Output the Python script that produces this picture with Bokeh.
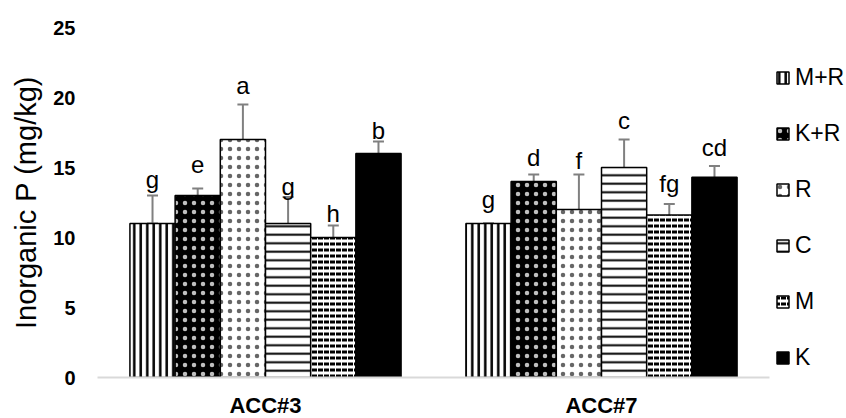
from bokeh.plotting import figure
from bokeh.models import (ColumnDataSource, FactorRange, Range1d, Whisker, Legend,
                          LegendItem, FixedTicker, TeeHead)
from bokeh.transform import dodge
from bokeh.core.properties import value
from bokeh.embed import file_html
from bokeh.resources import INLINE

# ---------------- data ----------------
groups = ["ACC#3", "ACC#7"]
series = ["M+R", "K+R", "R", "C", "M", "K"]

mean_mr = [11.0, 11.0]
mean_kr = [13.0, 14.0]
mean_r = [17.0, 12.0]
mean_c = [11.0, 15.0]
mean_m = [10.0, 11.6]
mean_k = [16.0, 14.3]

err_up_mr = [2.0, 0.0]
err_dn_mr = [0.0, 0.0]
err_kr = [0.5, 0.5]
err_r = [2.5, 2.5]
err_c = [1.9, 2.0]
err_m = [0.85, 0.8]
err_k = [0.85, 0.8]

letters_mr = ["g", "g"]
letters_kr = ["e", "d"]
letters_r = ["a", "f"]
letters_c = ["g", "c"]
letters_m = ["h", "fg"]
letters_k = ["b", "cd"]

letter_y_mr = [13.7, 12.3]
letter_y_kr = [14.8, 15.3]
letter_y_r = [20.4, 15.1]
letter_y_c = [13.2, 17.9]
letter_y_m = [11.3, 13.4]
letter_y_k = [17.2, 16.0]

y_ticks = [0, 5, 10, 15, 20, 25]

table = {
    "M+R": (mean_mr, err_up_mr, err_dn_mr, letters_mr, letter_y_mr),
    "K+R": (mean_kr, err_kr, err_kr, letters_kr, letter_y_kr),
    "R": (mean_r, err_r, err_r, letters_r, letter_y_r),
    "C": (mean_c, err_c, err_c, letters_c, letter_y_c),
    "M": (mean_m, err_m, err_m, letters_m, letter_y_m),
    "K": (mean_k, err_k, err_k, letters_k, letter_y_k),
}

styles = {
    "M+R": dict(fill_color="white", hatch_pattern="vertical_line", hatch_color="black",
                hatch_scale=6.5, hatch_weight=2.5),
    "K+R": dict(fill_color="black", hatch_pattern="dot", hatch_color="white",
                hatch_scale=9, hatch_weight=0.1, hatch_alpha=0.75),
    "R": dict(fill_color="white", hatch_pattern="dot", hatch_color="black",
              hatch_scale=9, hatch_weight=0.1, hatch_alpha=0.6),
    "C": dict(fill_color="white", hatch_pattern="horizontal_line", hatch_color="black",
              hatch_scale=8.5, hatch_weight=2),
    "M": dict(fill_color="white", hatch_pattern="horizontal_dash", hatch_color="black",
              hatch_scale=6, hatch_weight=3),
    "K": dict(fill_color="black"),
}

FONT = "Liberation Sans"

p = figure(x_range=FactorRange(*groups), y_range=Range1d(0, 25),
           frame_width=672, frame_height=350, output_backend="svg", toolbar_location=None,
           min_border_left=97, min_border_right=0, min_border_top=27, min_border_bottom=0)
p.outline_line_color = None
p.xgrid.grid_line_color = None
p.ygrid.grid_line_color = None
p.background_fill_color = "white"

bar_w = 0.1345
items = []
for i, s in enumerate(series):
    means, up, dn, lets, ly = table[s]
    src = ColumnDataSource(dict(
        group=groups, mean=means,
        upper=[m + u for m, u in zip(means, up)],
        lower=[m - d for m, d in zip(means, dn)],
        letter=lets, ly=ly))
    off = (i - 2.5) * bar_w
    r = p.vbar(x=dodge("group", off, range=p.x_range), top="mean", width=bar_w,
               source=src, line_color="black", line_width=1.5, **styles[s])
    items.append(LegendItem(label=s, renderers=[r]))
    w = Whisker(source=src, base=dodge("group", off, range=p.x_range),
                upper="upper", lower="lower", line_color="#808080", line_width=2,
                upper_head=TeeHead(size=11, line_color="#808080", line_width=2),
                lower_head=TeeHead(size=11, line_color="#808080", line_width=2))
    p.add_layout(w)
    p.text(x=dodge("group", off, range=p.x_range), y="ly", text="letter", source=src,
           text_align="center", text_baseline="alphabetic", y_offset=-6,
           text_font=value(FONT), text_font_size="24px", text_color="black")

legend = Legend(items=items, location=(6, 6), orientation="vertical",
                label_text_font=FONT, label_text_font_size="23px",
                label_text_color="black", glyph_width=15, glyph_height=15,
                label_standoff=5, spacing=29, padding=0, margin=3,
                border_line_color=None, background_fill_alpha=0)
p.add_layout(legend, "right")

p.yaxis.ticker = FixedTicker(ticks=y_ticks)
p.yaxis.axis_line_color = None
p.yaxis.major_tick_line_color = None
p.yaxis.minor_tick_line_color = None
p.yaxis.major_tick_out = 0
p.yaxis.major_tick_in = 0
p.yaxis.minor_tick_out = 0
p.yaxis.major_label_text_font = FONT
p.yaxis.major_label_text_font_style = "bold"
p.yaxis.major_label_text_font_size = "20px"
p.yaxis.major_label_text_color = "black"
p.yaxis.major_label_standoff = 22
p.yaxis.axis_label = "Inorganic P (mg/kg)"
p.yaxis.axis_label_text_font = FONT
p.yaxis.axis_label_text_font_style = "normal"
p.yaxis.axis_label_text_font_size = "29px"
p.yaxis.axis_label_text_color = "black"
p.yaxis.axis_label_standoff = 8

p.xaxis.axis_line_color = "#d9d9d9"
p.xaxis.axis_line_width = 2
p.xaxis.major_tick_line_color = None
p.xaxis.minor_tick_line_color = None
p.xaxis.major_tick_out = 0
p.xaxis.major_tick_in = 0
p.xaxis.minor_tick_out = 0
p.xaxis.axis_label_standoff = 0
p.xaxis.major_label_text_font = FONT
p.xaxis.major_label_text_font_style = "bold"
p.xaxis.major_label_text_font_size = "22px"
p.xaxis.major_label_text_color = "black"
p.xaxis.major_label_standoff = 15

open("out.html", "w").write(file_html(p, INLINE))
